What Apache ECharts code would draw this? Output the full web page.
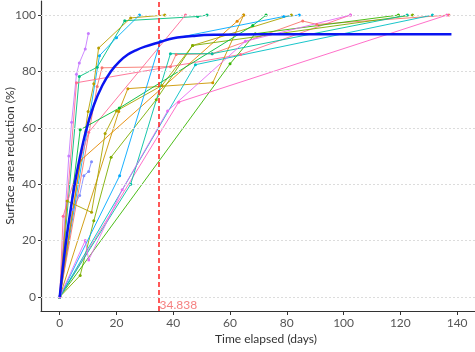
<!DOCTYPE html>
<html><head><meta charset="utf-8">
<script src="https://cdn.jsdelivr.net/npm/echarts@6/dist/echarts.min.js"></script>
<style>html,body{margin:0;padding:0;background:#fff}#c{width:475px;height:352px}</style>
</head><body><div id="c"></div>
<script>
// ---- data ----
const xTicks = [0, 20, 40, 60, 80, 100, 120, 140];
const yTicks = [0, 20, 40, 60, 80, 100];
const cutoffDay = 34.838;

const p01 = [[0,0],[3.2,50],[4.2,62],[5.9,79],[6.9,83],[9,88],[10.1,93.5]];
const p02 = [[0,0],[4.5,31],[7,36],[8.5,43],[10.2,44.5],[11.2,48]];
const p03 = [[0,0],[6.9,78.2],[13.2,81.5],[22.9,98],[48.6,99.5],[51.9,100]];
const p04 = [[0,0],[10,65.8],[12,75.6],[13.7,88.3],[25,99],[37,100]];
const p05 = [[0,0],[14,85.6],[20,92],[28.1,100]];
const p06 = [[0,0],[5.9,76],[63.7,86],[102.4,100]];
const p07 = [[0,0],[13.2,74.7],[14.9,81.3],[39,81.7],[41,86],[53.7,86.3],[85.6,97.9],[90.6,96.7],[137.1,100]];
const p08 = [[0,0],[1.2,28.6],[10.2,58.4],[44.3,100]];
const p09 = [[0,0],[7.3,48.4],[62.5,97.8],[64.8,100]];
const p10 = [[0,0],[20.8,65.8],[24,73.9],[53.9,76],[64.8,100]];
const p11 = [[0,0],[2.6,34],[11.2,30],[16,58],[20,66],[36,75],[46.8,89.2],[81.6,100]];
const p12 = [[0,0],[7.2,7.6],[12,27],[18.1,49.6],[34,70],[46.8,89.2],[124.3,100]];
const p13 = [[0,0],[7.2,59.3],[21,67],[68,96.3],[72.7,100]];
const p14 = [[0,0],[60,82.7],[68.9,93.4],[119.3,100]];
const p15 = [[0,0],[41.9,69.1],[136.4,100]];
const p16 = [[0,0],[47.8,82.4],[131.3,100]];
const p17 = [[0,0],[21.1,43],[35.5,90.8],[78.9,99.5],[84.4,100]];
const p18 = [[0,0],[25,40],[39,86.3],[53.7,86.3],[122.4,100]];
const p19 = [[0,0],[9,20],[10.2,13.1],[22,38],[38,66],[65.4,90.7],[102.4,100]];

const fitDays = [0, 2, 4, 6, 9, 12, 15, 18, 21, 24, 27, 30, 34.838, 40, 48, 55, 70, 100, 138];
const fitValues = [0, 18, 32, 44, 58, 68, 75, 80, 83.5, 86, 87.6, 88.8, 90.3, 91.8, 92.7, 93, 93.2, 93.2, 93.2];

const patients = [p01,p02,p03,p04,p05,p06,p07,p08,p09,p10,p11,p12,p13,p14,p15,p16,p17,p18,p19];
const patientColors = ['#C77CFF','#7E8CFF','#00BF7D','#B79F00','#00B0F6','#FF6C91','#F8766D','#FF6A98','#E58700',
  '#CD9600','#ABA300','#7CAE00','#00BA38','#39B600','#FF61C3','#00BFC4','#00A9FF','#00C1A3','#E76BF3'];

// ---- chart ----
const chart = echarts.init(document.getElementById('c'), null, {renderer: 'canvas'});
const font = 'Lato, "DejaVu Sans", sans-serif';
const series = [];
series.push({
  type: 'line', data: [], silent: true, z: 1,
  markLine: {
    silent: true, symbol: 'none', animation: false,
    label: {show: false},
    lineStyle: {type: [2, 2], color: '#dcdcdc', width: 1},
    data: yTicks.map(v => ({yAxis: v}))
  }
});
patients.forEach((d, i) => {
  series.push({
    type: 'line', data: d, z: 2,
    symbol: 'circle', symbolSize: 3, showSymbol: true,
    lineStyle: {width: 1, color: patientColors[i], opacity: 0.9},
    itemStyle: {color: patientColors[i]}
  });
});
series.push({
  type: 'line', data: fitDays.map((t, i) => [t, fitValues[i]]), z: 5,
  smooth: 0.4, showSymbol: false,
  lineStyle: {width: 2.5, color: '#0A14F0'}
});
series.push({
  type: 'scatter', data: [[cutoffDay, -2.8]], z: 6, symbolSize: 0,
  label: {show: true, position: 'right', distance: 1, formatter: String(cutoffDay),
    color: '#F26060', fontSize: 12, fontFamily: font},
  markLine: {
    silent: true, symbol: 'none', animation: false, label: {show: false},
    lineStyle: {type: [5, 3], color: '#FF2020', width: 1.5},
    data: [{xAxis: cutoffDay}]
  }
});

chart.setOption({
  animation: false,
  backgroundColor: '#ffffff',
  grid: {left: 41, right: 0, top: 1, bottom: 41, containLabel: false, outerBoundsMode: 'none'},
  xAxis: {
    type: 'value', min: -6.6, max: 146.3,
    name: 'Time elapsed (days)', nameLocation: 'middle', nameGap: 22, nameMoveOverlap: false,
    nameTextStyle: {color: '#333', fontSize: 12, fontFamily: font, padding: [0, 0, 0, 16]},
    axisLine: {show: true, onZero: false, lineStyle: {color: '#333', width: 1.2}},
    axisTick: {show: true, length: 4, lineStyle: {color: '#333'}, customValues: xTicks},
    axisLabel: {color: '#555', fontSize: 12, fontFamily: font, margin: 6, customValues: xTicks},
    splitLine: {show: false}
  },
  yAxis: {
    type: 'value', min: -5, max: 105,
    name: 'Surface area reduction (%)', nameLocation: 'middle', nameGap: 25, nameMoveOverlap: false,
    nameTextStyle: {color: '#333', fontSize: 12, fontFamily: font},
    axisLine: {show: true, onZero: false, lineStyle: {color: '#333', width: 1.2}},
    axisTick: {show: true, length: 3, lineStyle: {color: '#333'}, customValues: yTicks},
    axisLabel: {color: '#555', fontSize: 12, fontFamily: font, margin: 5, customValues: yTicks},
    splitLine: {show: false}
  },
  series: series
});
</script></body></html>
